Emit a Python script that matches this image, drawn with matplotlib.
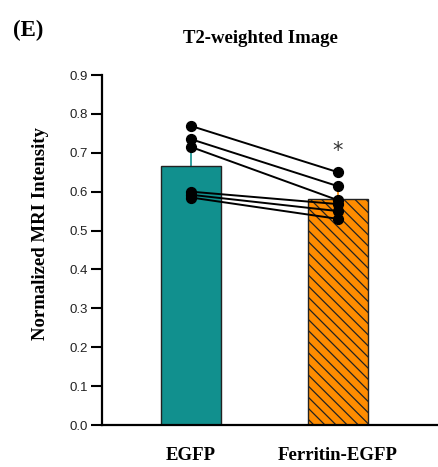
import matplotlib

matplotlib.use("Agg")
import matplotlib.pyplot as plt
import numpy as np

groups = ["EGFP", "Ferritin-EGFP"]
egfp = [0.769, 0.735, 0.715, 0.600, 0.592, 0.585]
ferritin = [0.650, 0.614, 0.578, 0.568, 0.550, 0.530]
yticks = [0.0, 0.1, 0.2, 0.3, 0.4, 0.5, 0.6, 0.7, 0.8, 0.9]

means = [np.mean(egfp), np.mean(ferritin)]
sds = [np.std(egfp, ddof=1), np.std(ferritin, ddof=1)]

fig = plt.figure(figsize=(4.38, 4.67), dpi=100)
ax = fig.add_axes([0.233, 0.0899, 0.767, 0.7495])

x = np.arange(len(groups))
colors = ["#11908e", "#ff8c00"]
hatches = ["", "\\\\\\"]
plt.rcParams["hatch.linewidth"] = 0.9
plt.rcParams["hatch.color"] = "#5a3000"
for i in range(len(groups)):
    ax.errorbar(x[i], means[i], yerr=[[0], [sds[i]]], color=colors[i], lw=1.2,
                capsize=0, zorder=1)
    ax.bar(x[i], means[i], width=0.41, color=colors[i], edgecolor="#222222",
           linewidth=1.0, hatch=hatches[i], zorder=2)

for a, b in zip(egfp, ferritin):
    ax.plot([0, 1], [a, b], color="black", lw=1.4, zorder=3)
ax.scatter(np.zeros(len(egfp)), egfp, s=50, color="black", zorder=4)
ax.scatter(np.ones(len(ferritin)), ferritin, s=50, color="black", zorder=4)

ax.text(1, 0.705, "*", ha="center", va="center", fontsize=15, color="#333333")

ax.set_xlim(-0.605, 1.68)
ax.set_ylim(0, 0.9)
ax.set_yticks(yticks)
ax.set_yticklabels([f"{t:.1f}" for t in yticks], fontsize=9.5, family="Liberation Sans",
                   color="#222222")
ax.set_xticks(x)
ax.set_xticklabels(groups, fontsize=13.5, family="Liberation Serif", fontweight="bold")
ax.tick_params(axis="y", length=8, width=1.5, direction="out", pad=2)
ax.tick_params(axis="x", length=0, pad=16)
for s in ["top", "right"]:
    ax.spines[s].set_visible(False)
for s in ["left", "bottom"]:
    ax.spines[s].set_linewidth(1.6)

fig.text(0.092, 0.50, "Normalized MRI Intensity", rotation=90, ha="center", va="center",
         fontsize=13.5, family="Liberation Serif", fontweight="bold")
fig.text(0.595, 0.918, "T2-weighted Image", ha="center", va="center",
         fontsize=13.5, family="Liberation Serif", fontweight="bold")
fig.text(0.03, 0.935, "(E)", ha="left", va="center",
         fontsize=16.5, family="Liberation Serif", fontweight="bold")

fig.savefig("out.png", dpi=100)
